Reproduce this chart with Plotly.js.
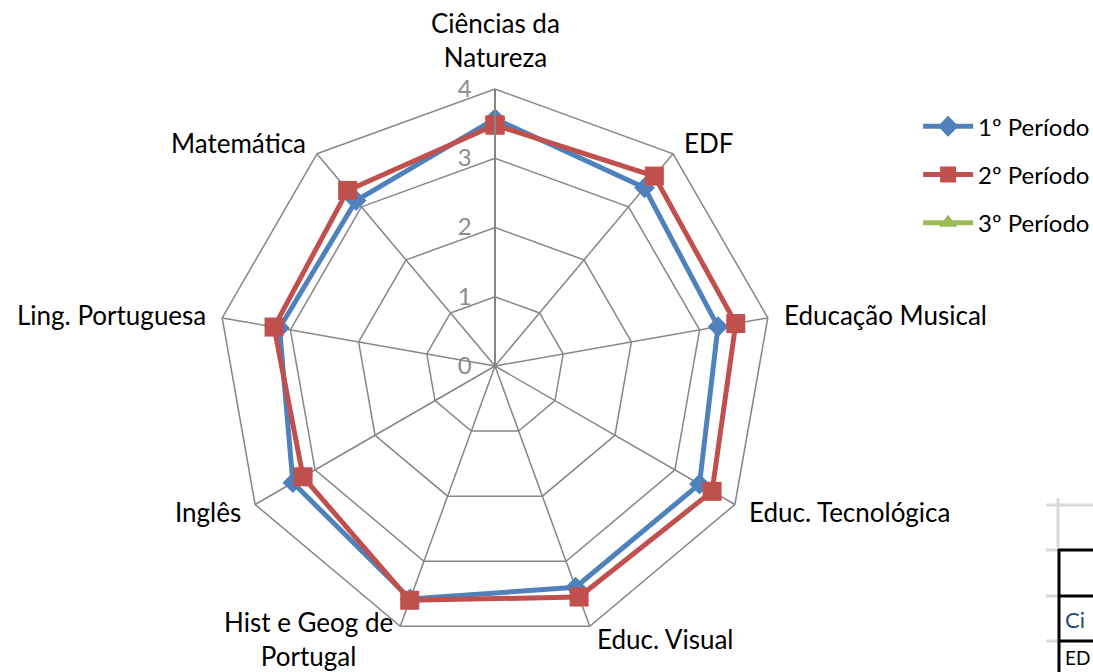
<!DOCTYPE html>
<html><head><meta charset="utf-8">
<script src="https://cdn.plot.ly/plotly-3.0.1.min.js"></script>
<style>html,body{margin:0;padding:0;background:#fff}#c{width:1093px;height:672px}</style>
</head><body><div id="c"></div>
<script>
const categories = ["Ciências da<br>Natureza","EDF","Educação Musical","Educ. Tecnológica","Educ. Visual","Hist e Geog de<br>Portugal","Inglês","Ling. Portuguesa","Matemática"];
const periodo1 = [3.57, 3.36, 3.27, 3.41, 3.40, 3.58, 3.37, 3.16, 3.12];
const periodo2 = [3.48, 3.58, 3.53, 3.62, 3.55, 3.60, 3.20, 3.24, 3.31];
const periodo3 = [0, 0, 0, 0, 0, 0, 0, 0, 0];
const seriesNames = ["1º Período","2º Período","3º Período"];
const radialTicks = [0,1,2,3,4];

function closed(a){return a.concat([a[0]]);}
const theta = closed(categories);

const traces = [
 {type:'scatterpolar', r: closed(periodo1), theta: theta, name: seriesNames[0], legendgroup:'a', mode:'lines+markers',
  line:{color:'#4F81BD', width:5}, marker:{symbol:'diamond', size:16, color:'#4F81BD'}},
 {type:'scatterpolar', r: closed(periodo2), theta: theta, name: seriesNames[1], legendgroup:'b', mode:'lines+markers',
  line:{color:'#C0504D', width:5}, marker:{symbol:'square', size:19, color:'#C0504D'}},
 {type:'scatterpolar', r: closed(periodo3), theta: theta, name: seriesNames[2], legendgroup:'c', mode:'lines+markers',
  line:{color:'#9BBB59', width:5}, marker:{symbol:'triangle-up', size:18, color:'#9BBB59'}}
];

const F = '"Lato", "Open Sans", sans-serif';
const W = 1093, H = 672;
const cx = 495, cy = 366, R = 277;

// category labels placed just outside each polygon vertex
const n = categories.length;
const catAnn = categories.map((c, i) => {
  const a = (90 - 360 * i / n) * Math.PI / 180;
  const ux = Math.cos(a), uy = Math.sin(a);
  const pad = 14;
  const px = cx + (R + pad) * ux, py = cy - (R + pad) * uy;
  let xa = ux > 0.1 ? 'left' : (ux < -0.1 ? 'right' : 'center');
  let ya = uy > 0.9 ? 'bottom' : 'middle';
  return {xref:'paper', yref:'paper', x: px / W, y: 1 - py / H, xanchor: xa, yanchor: ya,
          showarrow:false, text: c, align:'center', font:{family:F, size:26, color:'#000'}};
});

const layout = {
  width: W, height: H,
  margin:{l:0,r:0,t:0,b:0, autoexpand:false},
  paper_bgcolor:'#fff', plot_bgcolor:'#fff',
  font:{family:F, size:22, color:'#000'},
  showlegend:true,
  legend:{x:0.840, y:0.845, xanchor:'left', yanchor:'top', font:{family:F, size:24, color:'#000'},
          traceorder:'grouped', tracegroupgap:14, itemwidth:50, bgcolor:'rgba(0,0,0,0)'},
  polar:{
    domain:{x:[(cx-R)/W,(cx+R)/W], y:[1-(cy+R)/H, 1-(cy-R)/H]},
    gridshape:'linear',
    bgcolor:'#fff',
    radialaxis:{range:[0,4], tickvals:radialTicks, angle:90, tickangle:90, side:'counterclockwise',
      showline:true, linecolor:'#868686', linewidth:2, gridcolor:'#868686', gridwidth:1.5,
      ticks:'outside', ticklen:14, tickcolor:'rgba(0,0,0,0)', tickfont:{family:F, size:24, color:'#8c8c8c'}},
    angularaxis:{direction:'clockwise', rotation:90, type:'category', showticklabels:false,
      showline:true, linecolor:'#868686', linewidth:1.5, gridcolor:'#868686', gridwidth:1.5,
      ticks:''}
  },
  shapes:[
    {type:'line', xref:'paper', yref:'paper', x0:1046/W, x1:1, y0:1-505/H, y1:1-505/H, line:{color:'#d9d9d9', width:3}},
    {type:'line', xref:'paper', yref:'paper', x0:1058/W, x1:1058/W, y0:1-498/H, y1:1-548/H, line:{color:'#d9d9d9', width:3}},
    {type:'line', xref:'paper', yref:'paper', x0:1046/W, x1:1058/W, y0:1-550/H, y1:1-550/H, line:{color:'#d9d9d9', width:3}},
    {type:'line', xref:'paper', yref:'paper', x0:1046/W, x1:1058/W, y0:1-596/H, y1:1-596/H, line:{color:'#d9d9d9', width:3}},
    {type:'line', xref:'paper', yref:'paper', x0:1046/W, x1:1058/W, y0:1-641/H, y1:1-641/H, line:{color:'#d9d9d9', width:3}},
    {type:'line', xref:'paper', yref:'paper', x0:1059/W, x1:1059/W, y0:1-549/H, y1:0, line:{color:'#000', width:3}},
    {type:'line', xref:'paper', yref:'paper', x0:1058/W, x1:1, y0:1-550/H, y1:1-550/H, line:{color:'#000', width:3}},
    {type:'line', xref:'paper', yref:'paper', x0:1058/W, x1:1, y0:1-596/H, y1:1-596/H, line:{color:'#000', width:3}},
    {type:'line', xref:'paper', yref:'paper', x0:1058/W, x1:1, y0:1-641/H, y1:1-641/H, line:{color:'#000', width:3}}
  ],
  annotations: catAnn.concat([
    {xref:'paper', yref:'paper', x:1063/W, y:1-619/H, xanchor:'left', yanchor:'middle', showarrow:false, text:'Ci', font:{family:F, size:22, color:'#1f4e79'}},
    {xref:'paper', yref:'paper', x:1063/W, y:1-657/H, xanchor:'left', yanchor:'middle', showarrow:false, text:'ED', font:{family:F, size:19, color:'#000'}}
  ])
};

Plotly.newPlot('c', traces, layout, {displayModeBar:false, staticPlot:true});
</script></body></html>
